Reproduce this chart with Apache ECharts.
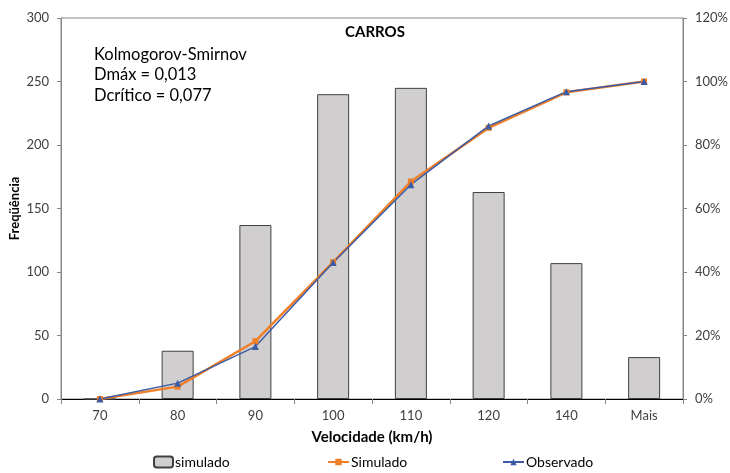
<!DOCTYPE html>
<html>
<head>
<meta charset="utf-8">
<script src="https://cdn.jsdelivr.net/npm/echarts@6/dist/echarts.min.js"></script>
<style>
  html, body { margin: 0; padding: 0; background: #fff; }
  #chart { width: 730px; height: 473px; }
</style>
</head>
<body>
<div id="chart"></div>
<script>
// faixas de velocidade
var categorias = ['70', '80', '90', '100', '110', '120', '140', 'Mais'];
// frequencia simulada (barras)
var freqSimulado = [0, 38, 137, 240, 245, 163, 107, 33];
// acumulado (fração)
var acumSimulado = [0, 0.039, 0.182, 0.431, 0.685, 0.854, 0.966, 1.0];
var acumObservado = [0, 0.05, 0.165, 0.43, 0.675, 0.86, 0.968, 1.0];

var fonte = 'Lato, "Open Sans", sans-serif';
var corTexto = '#404040';

var myChart = echarts.init(document.getElementById('chart'));
var option = {
  animation: false,
  backgroundColor: '#fff',
  textStyle: { fontFamily: fonte },
  title: {
    text: 'CARROS',
    left: 375,
    top: 25,
    padding: 0,
    textAlign: 'center',
    textStyle: { fontSize: 15, fontWeight: 'bold', color: '#000', fontFamily: fonte }
  },
  grid: {
    left: 61, right: 47, top: 18, bottom: 74,
    outerBoundsMode: 'none', containLabel: false,
    show: true, borderColor: '#868686', borderWidth: 1
  },
  legend: [
    {
      data: ['simulado'], left: 153, top: 455, padding: 0, itemWidth: 19, itemHeight: 11, itemGap: 2,
      textStyle: { fontSize: 14, color: '#000', fontFamily: fonte, padding: [0, 0, 0, -3] }
    },
    {
      data: ['Simulado'], left: 327, top: 455, padding: 0, itemWidth: 21, itemHeight: 8,
      textStyle: { fontSize: 14, color: '#000', fontFamily: fonte, padding: [0, 0, 0, -3] }
    },
    {
      data: ['Observado'], left: 502, top: 455, padding: 0, itemWidth: 21, itemHeight: 8,
      textStyle: { fontSize: 14, color: '#000', fontFamily: fonte, padding: [0, 0, 0, -3] }
    }
  ],
  xAxis: {
    type: 'category',
    data: categorias,
    name: 'Velocidade (km/h)',
    nameLocation: 'middle',
    nameGap: 31,
    nameMoveOverlap: false,
    nameTextStyle: { fontSize: 15, fontWeight: 'bold', color: '#000' },
    axisLine: { lineStyle: { color: '#000', width: 1 } },
    axisTick: { show: true, length: 5, lineStyle: { color: '#868686' } },
    axisLabel: { fontSize: 13, color: corTexto, margin: 10 }
  },
  yAxis: [
    {
      type: 'value',
      min: 0, max: 300, interval: 50,
      name: 'Freqüência',
      nameLocation: 'middle',
      nameGap: 40,
      nameMoveOverlap: false,
      nameTextStyle: { fontSize: 13, fontWeight: 'bold', color: '#000' },
      axisLine: { show: true, lineStyle: { color: '#868686' } },
      axisTick: { show: true, length: 4, lineStyle: { color: '#868686' } },
      axisLabel: { fontSize: 13, color: corTexto, margin: 12 },
      splitLine: { show: false }
    },
    {
      type: 'value',
      min: 0, max: 1.2, interval: 0.2,
      position: 'right',
      axisLine: { show: true, lineStyle: { color: '#868686' } },
      axisTick: { show: true, length: 4, lineStyle: { color: '#868686' } },
      axisLabel: {
        fontSize: 13, color: corTexto, margin: 12,
        formatter: function (v) { return Math.round(v * 100) + '%'; }
      },
      splitLine: { show: false }
    }
  ],
  graphic: [
    {
      type: 'text',
      left: 94,
      top: 44,
      style: {
        text: 'Kolmogorov-Smirnov\nDmáx = 0,013\nDcrítico = 0,077',
        font: '16.5px ' + fonte,
        lineHeight: 20.5,
        fill: '#000'
      }
    }
  ],
  series: [
    {
      name: 'simulado',
      type: 'bar',
      data: freqSimulado,
      barWidth: 32,
      itemStyle: { color: '#D0CECE', borderColor: '#404040', borderWidth: 1 }
    },
    {
      name: 'Simulado',
      type: 'line',
      yAxisIndex: 1,
      data: acumSimulado,
      symbol: 'rect',
      symbolSize: 6,
      lineStyle: { color: '#F07F2A', width: 2.5 },
      itemStyle: { color: '#F07F2A' }
    },
    {
      name: 'Observado',
      type: 'line',
      yAxisIndex: 1,
      data: acumObservado,
      symbol: 'triangle',
      symbolSize: 7,
      lineStyle: { color: '#3B5BA5', width: 1.5 },
      itemStyle: { color: '#3B5BA5' }
    }
  ]
};
myChart.setOption(option);
</script>
</body>
</html>
